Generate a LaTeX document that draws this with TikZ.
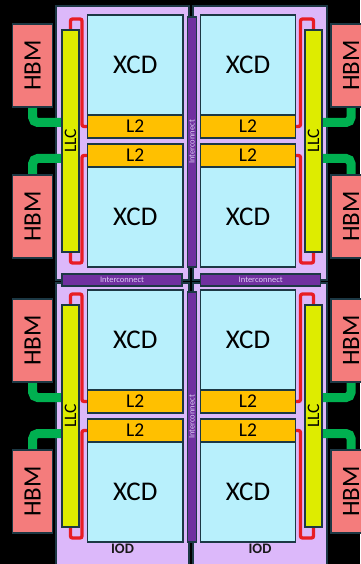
\documentclass[tikz,border=0pt]{standalone}
\usepackage{fontspec}
\setmainfont{Carlito}
\usepackage{graphicx}
\pgfdeclarelayer{bg}
\pgfdeclarelayer{mid}
\pgfsetlayers{bg,mid,main}
\definecolor{iodc}{RGB}{220,184,250}
\definecolor{xcdc}{RGB}{184,240,252}
\definecolor{l2c}{RGB}{255,192,0}
\definecolor{llcc}{RGB}{222,236,0}
\definecolor{hbmc}{RGB}{244,124,124}
\definecolor{icc}{RGB}{112,48,160}
\definecolor{ictext}{RGB}{222,206,245}
\definecolor{greenc}{RGB}{0,176,80}
\definecolor{redc}{RGB}{232,28,36}
\definecolor{borderc}{RGB}{28,56,68}
\tikzset{
  box/.style={draw=borderc, line width=1.2pt, inner sep=0pt, outer sep=0pt},
  hbm/.style={box, fill=hbmc, minimum width=40pt, minimum height=83pt, font=\fontsize{25}{25}\selectfont},
  llc/.style={box, fill=llcc, minimum width=17pt, minimum height=222pt, font=\fontsize{17.5}{17.5}\selectfont},
  xcd/.style={box, fill=xcdc, minimum height=100pt, font=\fontsize{27}{27}\selectfont},
  ltwo/.style={box, fill=l2c, minimum height=23pt, font=\fontsize{19.5}{19.5}\selectfont},
  icv/.style={box, fill=icc, minimum width=9.2pt, minimum height=250pt, text=ictext, font=\fontsize{8.5}{8.5}\selectfont},
  ich/.style={box, fill=icc, minimum width=120pt, minimum height=12pt, text=ictext, font=\fontsize{8.5}{8.5}\selectfont},
  quad/.style={draw=borderc, line width=1.2pt, fill=iodc, inner sep=0pt, outer sep=0pt},
  iodlabel/.style={font=\bfseries\fontsize{14.5}{14.5}\selectfont, text=black!90, inner sep=0pt},
  gline/.style={draw=greenc, line width=9pt, rounded corners=5pt},
  rline/.style={draw=redc, line width=3.3pt, rounded corners=2pt},
}
\begin{document}
\begin{tikzpicture}[x=1pt,y=-1pt]
\useasboundingbox (0,0) rectangle (360,564);
\begin{pgfonlayer}{bg}
\fill[black] (0,0) rectangle (360,564);
\node[quad, minimum width=133pt, minimum height=274pt] (qTL) at (122.5,143) {};
\node[quad, minimum width=134pt, minimum height=274pt] (qTR) at (260,143) {};
\node[quad, minimum width=133pt, minimum height=292pt] (qBL) at (122.5,429) {};
\node[quad, minimum width=134pt, minimum height=292pt] (qBR) at (260,429) {};
\end{pgfonlayer}
\foreach \h/\o in {t/0,b/275}{
  \node[hbm] (hbmLa\h) at (32.7,65.5+\o) {\rotatebox{90}{HBM}};
  \node[hbm] (hbmLb\h) at (32.7,216.5+\o) {\rotatebox{90}{HBM}};
  \node[hbm] (hbmRa\h) at (351,65.5+\o) {\rotatebox{90}{HBM}};
  \node[hbm] (hbmRb\h) at (351,216.5+\o) {\rotatebox{90}{HBM}};
  \node[llc] (llcL\h) at (70.5,141+\o) {\rotatebox{90}{LLC}};
  \node[llc] (llcR\h) at (313.5,141+\o) {\rotatebox{90}{LLC}};
  \node[xcd, minimum width=95.5pt] (xcdLa\h) at (135.25,65+\o) {XCD};
  \node[ltwo, minimum width=95.5pt] (l2La\h) at (135.25,126.5+\o) {L2};
  \node[ltwo, minimum width=95.5pt] (l2Lb\h) at (135.25,155.5+\o) {L2};
  \node[xcd, minimum width=95.5pt] (xcdLb\h) at (135.25,217+\o) {XCD};
  \node[xcd, minimum width=95pt] (xcdRa\h) at (248,65+\o) {XCD};
  \node[ltwo, minimum width=95pt] (l2Ra\h) at (248,126.5+\o) {L2};
  \node[ltwo, minimum width=95pt] (l2Rb\h) at (248,155.5+\o) {L2};
  \node[xcd, minimum width=95pt] (xcdRb\h) at (248,217+\o) {XCD};
  \node[icv] (icv\h) at (191.9,142+\o) {\rotatebox{90}{Interconnect}};
  \begin{pgfonlayer}{mid}
    \draw[gline] (hbmLa\h.south) |- ([yshift=18.5pt]llcL\h.west);
    \draw[gline] (hbmLb\h.north) |- ([yshift=-17.5pt]llcL\h.west);
    \draw[gline] (hbmRa\h.south) |- ([yshift=18.5pt]llcR\h.east);
    \draw[gline] (hbmRb\h.north) |- ([yshift=-17.5pt]llcR\h.east);
    \draw[rline] (l2La\h.west) -- ++(-5.5,0) |- ([yshift=11pt]llcL\h.north) -- (llcL\h.north);
    \draw[rline] (l2Lb\h.west) -- ++(-5.5,0) |- ([yshift=-11pt]llcL\h.south) -- (llcL\h.south);
    \draw[rline] (l2Ra\h.east) -- ++(5,0) |- ([yshift=11pt]llcR\h.north) -- (llcR\h.north);
    \draw[rline] (l2Rb\h.east) -- ++(5,0) |- ([yshift=-11pt]llcR\h.south) -- (llcR\h.south);
  \end{pgfonlayer}
}
\node[ich] (ichL) at (122,280) {Interconnect};
\node[ich] (ichR) at (260.7,280) {Interconnect};
\node[iodlabel] (iodL) at (122.5,549) {IOD};
\node[iodlabel] (iodR) at (260,549) {IOD};
\end{tikzpicture}
\end{document}
